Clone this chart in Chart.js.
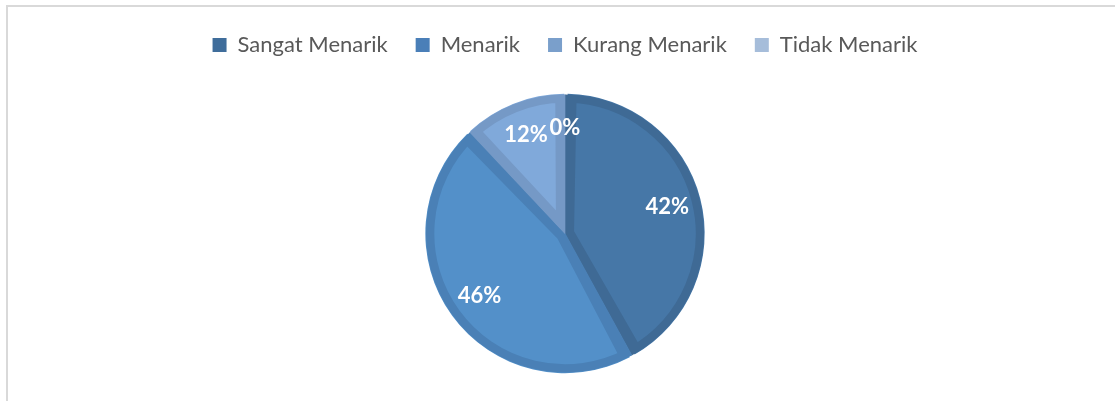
<!DOCTYPE html>
<html>
<head>
<meta charset="utf-8">
<script src="https://cdn.jsdelivr.net/npm/chart.js@4"></script>
<style>
    html, body { margin: 0; padding: 0; background: #fff; overflow: hidden; }
    #frame {
        position: absolute; left: 6px; top: 5px; width: 2000px; height: 1000px;
        border-left: 2px solid #d9d9d9; border-top: 2px solid #d9d9d9;
    }
    #wrap { position: absolute; left: 0; top: 0; width: 1115px; height: 401px; }
</style>
</head>
<body>
<div id="frame"></div>
<div id="wrap"><canvas id="pieChart"></canvas></div>
<script>
// Data
const categories = ['Sangat Menarik', 'Menarik', 'Kurang Menarik', 'Tidak Menarik'];
const percentages = [42, 46, 12, 0];

// Warna (isi, tepi, legend)
const fillColors = ['#4677a7', '#5390c9', '#80a9da', '#a8bfdc'];
const edgeColors = ['#3f6a95', '#4a80b6', '#7599c6', '#9bb2d0'];
const legendColors = ['#3f6d9b', '#4a7fb8', '#7a9fcb', '#a6bdda'];

// Plugin: label persen di dalam slice
const pieLabels = {
    id: 'pieLabels',
    afterDatasetsDraw(chart) {
        const ctx = chart.ctx;
        const meta = chart.getDatasetMeta(0);
        ctx.save();
        ctx.font = 'bold 22px Lato';
        ctx.fillStyle = '#ffffff';
        ctx.textAlign = 'center';
        ctx.textBaseline = 'middle';
        meta.data.forEach((arc, i) => {
            const mid = (arc.startAngle + arc.endAngle) / 2;
            const r = arc.outerRadius * 0.76;
            const x = arc.x + Math.cos(mid) * r;
            const y = arc.y + Math.sin(mid) * r;
            ctx.fillText(percentages[i] + '%', x, y);
        });
        ctx.restore();
    }
};

const ctx = document.getElementById('pieChart').getContext('2d');
new Chart(ctx, {
    type: 'pie',
    data: {
        labels: categories,
        datasets: [{
            data: percentages,
            backgroundColor: fillColors,
            borderColor: edgeColors,
            borderWidth: 9,
            borderAlign: 'inner',
            spacing: 2,
            radius: 139
        }]
    },
    options: {
        responsive: true,
        maintainAspectRatio: false,
        animation: false,
        layout: { padding: { left: 15, top: 6, bottom: 0 } },
        plugins: {
            tooltip: { enabled: false },
            legend: {
                position: 'top',
                labels: {
                    boxWidth: 14,
                    boxHeight: 14,
                    padding: 28,
                    color: '#595959',
                    font: { family: 'Lato', size: 22 },
                    generateLabels: (chart) => chart.data.labels.map((label, i) => ({
                        text: label,
                        fillStyle: legendColors[i],
                        strokeStyle: legendColors[i],
                        lineWidth: 0,
                        fontColor: '#595959',
                        hidden: false,
                        index: i
                    }))
                }
            }
        }
    },
    plugins: [pieLabels]
});
</script>
</body>
</html>
